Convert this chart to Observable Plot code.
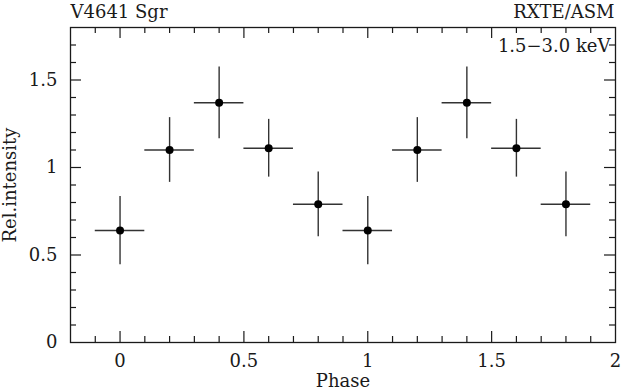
<!DOCTYPE html>
<html><head><meta charset="utf-8">
<script src="https://cdn.jsdelivr.net/npm/d3@7"></script>
<script src="https://cdn.jsdelivr.net/npm/@observablehq/plot@0.6"></script>
<style>body{margin:0;background:#fff}</style>
</head><body><div id="chart"></div>
<script>
// Data (folded light curve, two cycles)
const phase     = [0.0, 0.2, 0.4, 0.6, 0.8, 1.0, 1.2, 1.4, 1.6, 1.8];
const intensity = [0.64, 1.10, 1.37, 1.11, 0.79, 0.64, 1.10, 1.37, 1.11, 0.79];
const errY      = [0.195, 0.185, 0.205, 0.165, 0.185, 0.195, 0.185, 0.205, 0.165, 0.185];
const binHalfWidth = [0.1, 0.1, 0.1, 0.1, 0.1, 0.1, 0.1, 0.1, 0.1, 0.1];

// Tick labels
const xTickLabels = [0, 0.5, 1, 1.5, 2];
const yTickLabels = [0, 0.5, 1, 1.5];
const xMinorTicks = [-0.1, 0.1, 0.2, 0.3, 0.4, 0.6, 0.7, 0.8, 0.9, 1.1, 1.2, 1.3, 1.4, 1.6, 1.7, 1.8, 1.9];
const xMajorTicks = [0, 0.5, 1, 1.5];
const yMinorTicks = [0.1, 0.2, 0.3, 0.4, 0.6, 0.7, 0.8, 0.9, 1.1, 1.2, 1.3, 1.4, 1.6, 1.7];
const yMajorTicks = [0.5, 1, 1.5];

// Texts
const titleLeft = "V4641 Sgr";
const titleRight = "RXTE/ASM";
const bandLabel = "1.5\u22123.0 keV";
const xLabel = "Phase";
const yLabel = "Rel.intensity";

const data = phase.map((p, i) => ({p, v: intensity[i], e: errY[i], w: binHalfWidth[i]}));

const W = 622, H = 390;
const mT = 27, mB = 48, mL = 70, mR = 7;
const fh = H - mT - mB, fw = W - mL - mR;
const minorLen = 6, majorLen = 11;
const ink = "#1a1a1a";
const font = "DejaVu Serif";

const chart = Plot.plot({
  width: W, height: H,
  marginTop: mT, marginBottom: mB, marginLeft: mL, marginRight: mR,
  style: {fontFamily: font, fontSize: "18px", background: "#fff", color: ink},
  x: {domain: [-0.2, 2.0]},
  y: {domain: [0, 1.8]},
  marks: [
    Plot.frame({stroke: ink, strokeWidth: 1.3}),
    // inward ticks on all four sides
    Plot.tickX(xMinorTicks, {x: d => d, insetBottom: fh - minorLen, stroke: ink, strokeWidth: 1.2}),
    Plot.tickX(xMinorTicks, {x: d => d, insetTop: fh - minorLen, stroke: ink, strokeWidth: 1.2}),
    Plot.tickX(xMajorTicks, {x: d => d, insetBottom: fh - majorLen, stroke: ink, strokeWidth: 1.2}),
    Plot.tickX(xMajorTicks, {x: d => d, insetTop: fh - majorLen, stroke: ink, strokeWidth: 1.2}),
    Plot.tickY(yMinorTicks, {y: d => d, insetRight: fw - minorLen, stroke: ink, strokeWidth: 1.2}),
    Plot.tickY(yMinorTicks, {y: d => d, insetLeft: fw - minorLen, stroke: ink, strokeWidth: 1.2}),
    Plot.tickY(yMajorTicks, {y: d => d, insetRight: fw - majorLen, stroke: ink, strokeWidth: 1.2}),
    Plot.tickY(yMajorTicks, {y: d => d, insetLeft: fw - majorLen, stroke: ink, strokeWidth: 1.2}),
    // axes labels
    Plot.axisX(xTickLabels, {anchor: "bottom", tickSize: 0, tickPadding: 12, fontSize: 18, tickFormat: d => String(d), label: null, fill: ink}),
    Plot.axisY(yTickLabels, {anchor: "left", tickSize: 0, tickPadding: 13, fontSize: 18, tickFormat: d => String(d), label: null, fill: ink}),
    Plot.text([xLabel], {frameAnchor: "bottom", textAnchor: "middle", lineAnchor: "bottom", dy: 44, fontSize: 18, fill: ink, letterSpacing: "0.6px"}),
    Plot.text([yLabel], {frameAnchor: "left", textAnchor: "middle", rotate: -90, lineAnchor: "middle", dx: -60, fontSize: 18, fill: ink, letterSpacing: "1.2px"}),
    Plot.text([titleLeft], {frameAnchor: "top-left", textAnchor: "start", lineAnchor: "bottom", dy: -10, fontSize: 18, fill: ink, letterSpacing: "0.5px"}),
    Plot.text([titleRight], {frameAnchor: "top-right", textAnchor: "end", lineAnchor: "bottom", dy: -10, dx: -1, fontSize: 18, fill: ink}),
    Plot.text([bandLabel], {frameAnchor: "top-right", textAnchor: "end", lineAnchor: "bottom", dy: 24, dx: -5, fontSize: 18, fill: ink, letterSpacing: "0.3px"}),
    // error bars
    Plot.ruleX(data, {x: "p", y1: d => d.v - d.e, y2: d => d.v + d.e, stroke: "#333", strokeWidth: 1.4}),
    Plot.ruleY(data, {y: "v", x1: d => d.p - d.w, x2: d => d.p + d.w, stroke: "#333", strokeWidth: 1.4}),
    Plot.dot(data, {x: "p", y: "v", r: 4, fill: "#000", stroke: "none"})
  ]
});
document.getElementById("chart").append(chart);
</script>
</body></html>
